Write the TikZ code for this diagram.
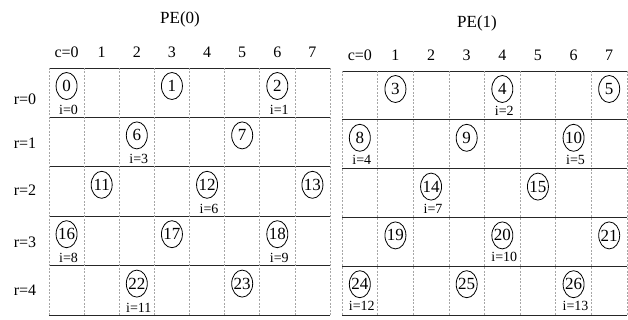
\documentclass[tikz,border=0pt]{standalone}
\usepackage{fontspec}
\setmainfont{Liberation Serif}
\usetikzlibrary{shapes.geometric}
\begin{document}
\begin{tikzpicture}[x=1pt,y=-1pt,
  hline/.style={line width=0.9pt, black!85},
  vline/.style={line width=0.7pt, gray!70, dash pattern=on 2pt off 1.5pt},
  elem/.style={draw, ellipse, line width=0.8pt, inner sep=0pt, minimum width=21pt, minimum height=27pt, font=\fontsize{17}{17}\selectfont},
  ilab/.style={font=\fontsize{14}{14}\selectfont, inner sep=0pt},
  clab/.style={font=\fontsize{16}{16}\selectfont, inner sep=0pt},
  ttl/.style={font=\fontsize{17}{17}\selectfont, inner sep=0pt}]
\useasboundingbox (0,0) rectangle (628,320);
% titles
\node[ttl] (t0) at (180,19) {PE(0)};
\node[ttl] (t1) at (477,23) {PE(1)};
% grids PE(0)
\foreach \k in {0,...,5} \draw[hline] (49,{68+49.4*\k}) -- (330,{68+49.4*\k});
\foreach \k in {0,...,8} \draw[vline] ({49+35.125*\k},68) -- ({49+35.125*\k},315);
% grids PE(1)
\foreach \k in {0,...,5} \draw[hline] (342,{71+48.8*\k}) -- (627,{71+48.8*\k});
\foreach \k in {0,...,8} \draw[vline] ({342+35.625*\k},71) -- ({342+35.625*\k},315);
% column labels
\node[clab] (ca0) at ({49+35.125*0.5},52) {c=0};
\foreach \k in {1,...,7} \node[clab] (ca\k) at ({49+35.125*(\k+0.5)},52) {\k};
\node[clab] (cb0) at ({342+35.625*0.5},55) {c=0};
\foreach \k in {1,...,7} \node[clab] (cb\k) at ({342+35.625*(\k+0.5)},55) {\k};
% row labels
\node[clab] (r0) at (25,99) {r=0};
\foreach \k/\yy in {1/143,2/190,3/242,4/290} \node[clab] (r\k) at (25,\yy) {r=\k};
% PE(0) elements with index labels
\foreach \n/\c/\r/\i in {0/0/0/0, 2/6/0/1, 6/2/1/3, 12/4/2/6, 16/0/3/8, 18/6/3/9, 22/2/4/11} {
  \node[elem] (e\n) at ({49+35.125*(\c+0.5)},{68+49.4*\r+18}) {\makebox[0pt]{\n}};
  \node[ilab] (i\n) at ({49+35.125*(\c+0.5)+2},{68+49.4*\r+42}) {i=\i};
}
\foreach \n/\c/\r in {1/3/0, 7/5/1, 11/1/2, 13/7/2, 17/3/3, 23/5/4} {
  \node[elem] (e\n) at ({49+35.125*(\c+0.5)},{68+49.4*\r+18}) {\makebox[0pt]{\n}};
}
% PE(1) elements
\foreach \n/\c/\r/\i in {4/4/0/2, 8/0/1/4, 10/6/1/5, 14/2/2/7, 20/4/3/10, 24/0/4/12, 26/6/4/13} {
  \node[elem] (e\n) at ({342+35.625*(\c+0.5)},{71+48.8*\r+18}) {\makebox[0pt]{\n}};
  \node[ilab] (i\n) at ({342+35.625*(\c+0.5)+2},{71+48.8*\r+40}) {i=\i};
}
\foreach \n/\c/\r in {3/1/0, 5/7/0, 9/3/1, 15/5/2, 19/1/3, 21/7/3, 25/3/4} {
  \node[elem] (e\n) at ({342+35.625*(\c+0.5)},{71+48.8*\r+18}) {\makebox[0pt]{\n}};
}
\end{tikzpicture}
\end{document}
